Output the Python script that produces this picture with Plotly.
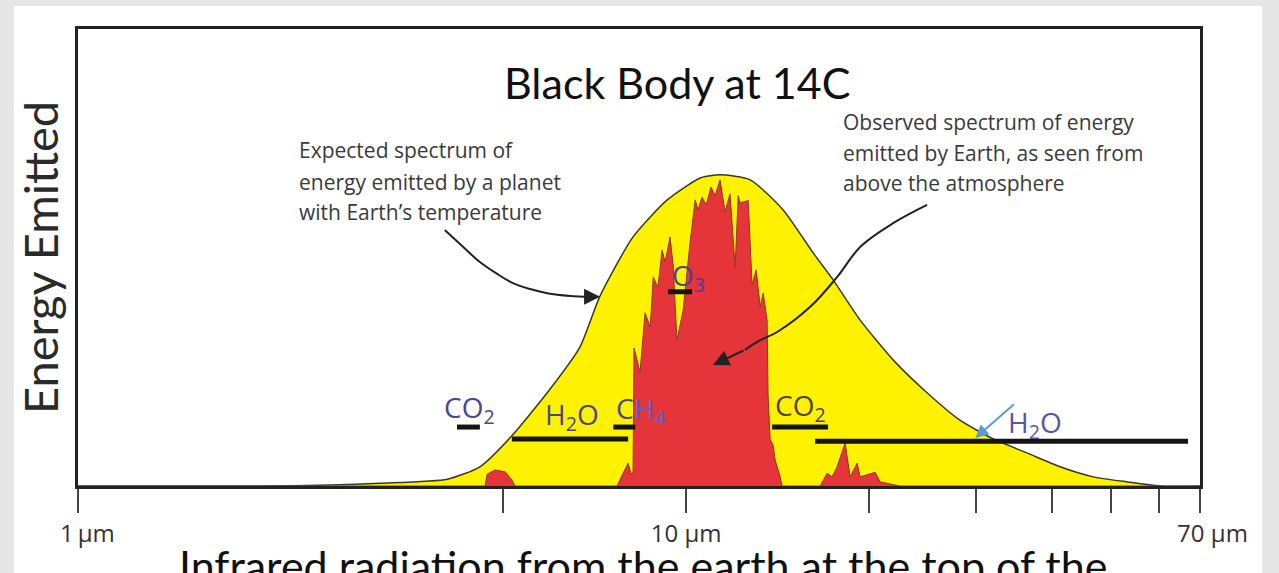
import numpy as np
import plotly.graph_objects as go

# ---- data (wavelength in µm, energy in arbitrary units 0-100) ----
bb_wavelength = [1.0, 2.0, 2.6, 3.14, 4.05, 4.58, 5.13, 5.91, 6.69, 7.22, 8.18, 9.31, 10.55, 11.37,
                 12.75, 14.44, 16.18, 17.45, 19.33, 21.9, 24.9, 28.2, 32.0, 36.4, 41.2, 46.7, 53.1, 60.2, 70.0]
bb_energy = [0, 0, 0.2, 0.6, 1.5, 4.2, 10.5, 20.4, 30.4, 41.6, 54.5, 62.6, 67.4, 68.1,
             67.0, 60.4, 51.0, 45.1, 36.3, 27.6, 20.4, 14.4, 10.3, 7.2, 4.2, 2.0, 0.9, 0, 0]

obs_wavelength = [1.0, 4.67, 4.71, 4.85, 5.04, 5.17, 5.23,
                  7.70, 7.85, 8.03, 8.12, 8.18, 8.21, 8.40, 8.56, 8.73, 8.83, 8.99, 9.13, 9.24,
                  9.41, 9.52, 9.66, 9.89, 10.15, 10.35, 10.46, 10.62, 10.79, 10.99, 11.16, 11.37,
                  11.59, 11.81, 12.04, 12.18, 12.27, 12.65, 12.84, 13.04, 13.24, 13.39, 13.59,
                  13.64, 13.75, 13.90, 14.01, 14.28, 14.38,
                  16.61, 17.06, 17.38, 17.71, 18.26, 18.61, 19.11, 19.33, 20.46, 20.85, 22.49, 70.0]
obs_energy = [0, 0, 2.6, 3.5, 3.1, 1.3, 0,
              0, 2.4, 5.0, 2.6, 3.1, 30.2, 24.9, 37.9, 34.8, 45.7, 43.5, 51.6, 49.0,
              54.5, 48.4, 31.9, 38.5, 53.2, 62.6, 60.4, 63.2, 61.5, 65.4, 63.5, 67.0,
              60.0, 63.9, 47.9, 63.5, 61.9, 62.5, 44.0, 47.3, 39.2, 42.2, 36.3,
              19.9, 10.1, 9.0, 5.7, 2.0, 0,
              0, 2.8, 2.0, 4.2, 9.4, 2.0, 5.0, 2.0, 3.0, 0.9, 0, 0]

# absorption bands: label, start µm, end µm, level
band_names = ["CO<sub>2</sub>", "H<sub>2</sub>O", "C<span style='color:#5a63c8'>H<sub>4</sub></span>",
              "O<sub>3</sub>", "CO<sub>2</sub>", "H<sub>2</sub>O"]
band_start = [4.20, 5.17, 7.59, 9.34, 13.85, 16.30]
band_end = [4.58, 8.03, 8.25, 10.23, 17.12, 66.9]
band_level = [12.9, 10.3, 12.9, 42.5, 12.9, 9.8]
label_x = [4.41, 6.49, 8.43, 10.08, 15.4, 37.5]
label_y = [16.8, 15.3, 16.6, 45.8, 17.3, 13.6]
label_color = ["#4b4690", "#4b4690", "#4b4690", "#4b3f9a", "#4a4535", "#5656a8"]

tick_vals = [1, 5, 10, 20, 30, 40, 50, 60, 70]
tick_text = ["\u00a0\u00a0\u00a01\u2009µm", "", "10 µm", "", "", "", "", "", "\u00a0\u00a0\u00a0\u00a070 µm"]

# pointer curves (annotation arrows)
arrow1_x = [4.01, 4.30, 4.58, 4.89, 5.19, 5.54, 5.91, 6.45, 6.95]
arrow1_y = [56.0, 52.3, 49.0, 46.4, 44.4, 43.1, 42.2, 41.6, 41.4]
arrow1_tip = (7.22, 41.4)
arrow2_x = [24.9, 21.9, 19.33, 17.71, 16.0, 14.12, 13.24, 12.5]
arrow2_y = [61.5, 57.5, 52.3, 45.7, 39.2, 33.7, 31.9, 29.8]
arrow2_tip = (11.07, 26.5)
blue_from = (34.8, 18.2)
blue_to = (29.9, 10.5)

fig = go.Figure()

fig.add_trace(go.Scatter(x=bb_wavelength, y=bb_energy, mode="lines", fill="tozeroy",
                         fillcolor="#fff200", line=dict(color="#3a3a20", width=1.5, shape="spline", smoothing=0.6),
                         hoverinfo="skip", showlegend=False))
fig.add_trace(go.Scatter(x=obs_wavelength, y=obs_energy, mode="lines", fill="tozeroy",
                         fillcolor="#e5343a", line=dict(color="#8c3a18", width=1),
                         hoverinfo="skip", showlegend=False))

for s, e, lv in zip(band_start, band_end, band_level):
    fig.add_trace(go.Scatter(x=[s, e], y=[lv, lv], mode="lines", line=dict(color="#141414", width=5),
                             hoverinfo="skip", showlegend=False))

fig.add_trace(go.Scatter(x=arrow1_x, y=arrow1_y, mode="lines", line=dict(color="#222", width=2, shape="spline"),
                         hoverinfo="skip", showlegend=False))
fig.add_trace(go.Scatter(x=arrow2_x, y=arrow2_y, mode="lines", line=dict(color="#222", width=2, shape="spline"),
                         hoverinfo="skip", showlegend=False))

annotations = []
for name, lx, ly, c in zip(band_names, label_x, label_y, label_color):
    annotations.append(dict(x=np.log10(lx), y=ly, xref="x", yref="y", text=name, showarrow=False,
                            xanchor="center", yanchor="middle",
                            font=dict(family="Open Sans", size=28, color=c)))

annotations.append(dict(x=np.log10(arrow1_tip[0]), y=arrow1_tip[1], ax=np.log10(arrow1_x[-1]), ay=arrow1_y[-1],
                        xref="x", yref="y", axref="x", ayref="y", text="", showarrow=True,
                        arrowhead=2, arrowsize=1.6, arrowwidth=2, arrowcolor="#222"))
annotations.append(dict(x=np.log10(arrow2_tip[0]), y=arrow2_tip[1], ax=np.log10(arrow2_x[-1]), ay=arrow2_y[-1],
                        xref="x", yref="y", axref="x", ayref="y", text="", showarrow=True,
                        arrowhead=2, arrowsize=1.6, arrowwidth=2, arrowcolor="#222"))
annotations.append(dict(x=np.log10(blue_to[0]), y=blue_to[1], ax=np.log10(blue_from[0]), ay=blue_from[1],
                        xref="x", yref="y", axref="x", ayref="y", text="", showarrow=True,
                        arrowhead=2, arrowsize=1.3, arrowwidth=2, arrowcolor="#5b9bd5"))

# pixel helpers for layout text
L, R, T, B = 78, 1200, 29, 486
def px(xp):
    return (xp - L) / (R - L)
def py(yp):
    return (B - yp) / (B - T)

annotations.append(dict(x=px(677), y=py(82), xref="paper", yref="paper", text="Black Body at 14C",
                        xanchor="center", yanchor="middle",
                        showarrow=False, font=dict(family="Lato", size=43, color="#111")))
annotations.append(dict(x=px(643), y=py(538), xref="paper", yref="paper", xanchor="center", yanchor="top",
                        text="Infrared radiation from the earth at the top of the",
                        showarrow=False, font=dict(family="Lato", size=43, color="#111")))
annotations.append(dict(x=px(40), y=py(258), xref="paper", yref="paper", text="Energy Emitted", textangle=-90,
                        xanchor="center", yanchor="middle",
                        showarrow=False, font=dict(family="Lato", size=47, color="#2a2a2a")))

for txt, yy in zip(["Expected spectrum of", "energy emitted by a planet", "with Earth’s temperature"], [150, 182, 212]):
    annotations.append(dict(x=px(297), y=py(yy), xref="paper", yref="paper", xanchor="left", yanchor="middle",
                            text=txt, showarrow=False, font=dict(family="Open Sans", size=21, color="#3a3a3a")))
for txt, yy in zip(["Observed spectrum of energy", "emitted by Earth, as seen from", "above the atmosphere"], [122, 153, 183]):
    annotations.append(dict(x=px(841), y=py(yy), xref="paper", yref="paper", xanchor="left", yanchor="middle",
                            text=txt, showarrow=False, font=dict(family="Open Sans", size=21, color="#3a3a3a")))

fig.update_layout(
    width=1279, height=573,
    margin=dict(l=L, r=1279 - R, t=T, b=573 - B),
    paper_bgcolor="#e6e6e6", plot_bgcolor="white",
    annotations=annotations,
    shapes=[dict(type="rect", xref="paper", yref="paper", x0=px(14), x1=px(1262), y0=py(573), y1=py(6),
                 fillcolor="white", line=dict(width=0), layer="below")],
    xaxis=dict(type="log", range=[0, np.log10(70)], tickvals=tick_vals, ticktext=tick_text,
               ticks="outside", ticklen=24, tickwidth=2, tickcolor="#444",
               showline=True, linewidth=3, linecolor="#222", mirror=True, showgrid=False, zeroline=False,
               tickfont=dict(family="Open Sans", size=24, color="#333")),
    yaxis=dict(range=[0, 100], showticklabels=False, ticks="", showline=True, linewidth=3,
               linecolor="#222", mirror=True, showgrid=False, zeroline=False),
)

fig.write_html("out.html", config={"displayModeBar": False},
               post_script="document.body.style.margin='0px';document.body.style.overflow='hidden';")
